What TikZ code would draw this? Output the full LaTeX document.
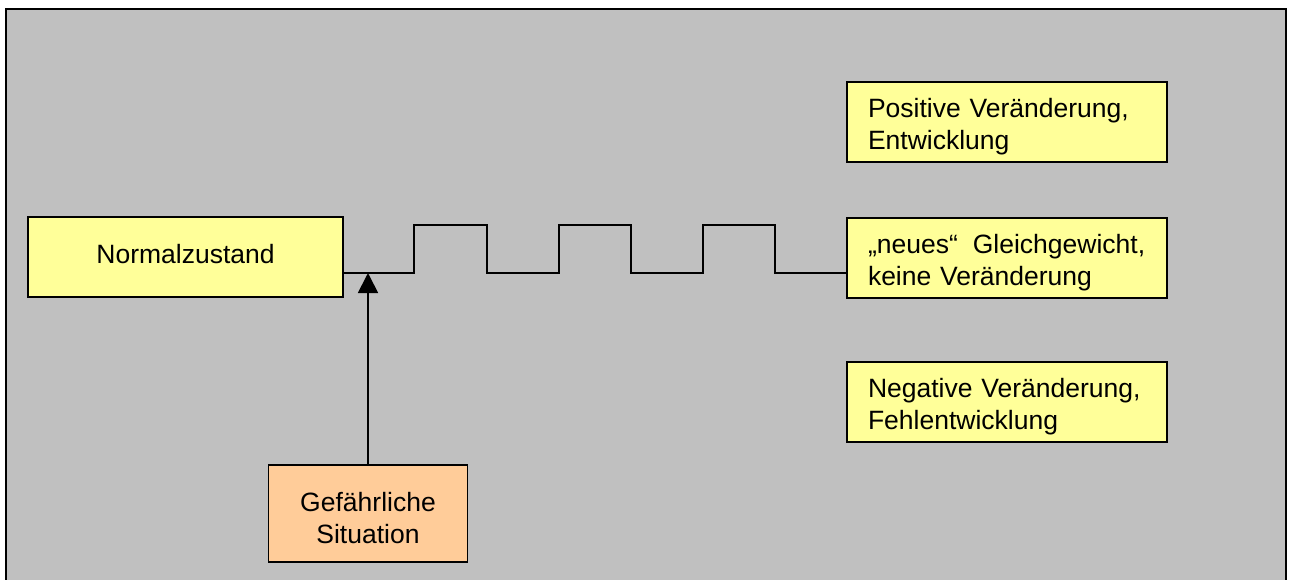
\documentclass[tikz,border=0pt]{standalone}
\usepackage{fontspec}
\setmainfont{Liberation Sans}
\usetikzlibrary{arrows.meta}
\definecolor{bggray}{HTML}{C0C0C0}
\definecolor{boxyellow}{HTML}{FFFF99}
\definecolor{boxorange}{HTML}{FFCC99}

\begin{document}
\begin{tikzpicture}[x=1pt,y=-1pt,
	state/.style={draw,line width=1.8pt,fill=boxyellow,minimum width=315pt,minimum height=80pt,
		font=\fontsize{26.5}{32}\selectfont,execute at end node={\rule[-7pt]{0pt}{7pt}}},
	outcome/.style={state,text width=278pt,inner xsep=21pt,align=left,
		execute at begin node={\rule{0pt}{30pt}}},
	danger/.style={state,fill=boxorange,minimum width=199pt,minimum height=97pt,
		text width=190pt,inner xsep=4.5pt,align=center,
		execute at begin node={\rule{0pt}{35pt}}}]
\useasboundingbox (0,0) rectangle (1291,579);
\fill[white] (0,0) rectangle (1291,579);
\draw[line width=2.5pt,fill=bggray] (6,9) rectangle (1286,600);
\path (185.5,257) node[state] (norm) {Normalzustand}
		(1007,122) node[outcome] (pos) {\mbox{Positive Veränderung,}\\Entwicklung}
		(1007,258) node[outcome] (neu) {\mbox{„neues“\hspace{15pt}Gleichgewicht,}\\\mbox{keine Veränderung}}
		(1007,402) node[outcome] (neg) {\mbox{Negative Veränderung,}\\Fehlentwicklung}
		(368,513.5) node[danger] (gef) {Gefährliche\\Situation};
\coordinate (hit) at (gef.north |- 0,273);
% Schwingung zwischen den Zuständen
\draw[line width=1.8pt] (norm.east |- 0,273) -- (414,273) -- (414,225) -- (487,225) -- (487,273)
		-- (559,273) -- (559,225) -- (631,225) -- (631,273)
		-- (703,273) -- (703,225) -- (775,225) -- (775,273) -- (neu.west |- 0,273);
\draw[line width=1.8pt,-{Triangle[length=20pt,width=20pt]}] (gef.north) -- (hit);
\end{tikzpicture}
\end{document}
